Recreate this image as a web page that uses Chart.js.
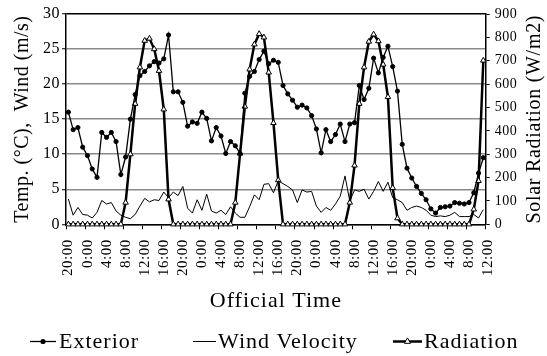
<!DOCTYPE html>
<html><head><meta charset="utf-8">
<script src="https://cdn.jsdelivr.net/npm/chart.js@4.4.1/dist/chart.umd.min.js"></script>
<style>html,body{margin:0;padding:0;background:#fff}canvas{display:block}</style>
</head><body>
<canvas id="c" width="547" height="356"></canvas>
<script>
// x tick labels (every 4 hours, at category boundaries)
const tickLabels = ['20:00','0:00','4:00','8:00','12:00','16:00','20:00','0:00','4:00','8:00','12:00','16:00',
  '20:00','0:00','4:00','8:00','12:00','16:00','20:00','0:00','4:00','8:00','12:00'];

// hourly series (88 readings)
const exterior = [16.0,13.5,13.8,11.0,9.8,7.9,6.7,13.1,12.4,13.1,11.8,7.1,9.6,15.0,18.5,21.2,21.8,22.6,23.2,23.0,
  23.6,27.0,18.9,18.9,17.4,14.0,14.6,14.4,16.0,15.1,11.9,13.8,12.6,10.1,11.8,11.2,10.1,18.7,21.1,21.8,
  23.5,24.7,22.9,23.4,23.1,19.8,18.6,17.7,16.7,17.0,16.6,15.5,13.6,10.2,13.5,11.8,12.8,14.3,11.8,14.3,
  14.5,19.8,17.8,19.4,23.7,21.6,23.8,25.4,22.5,19.0,11.4,8.0,6.6,5.4,4.4,3.5,2.2,1.6,2.4,2.5,
  2.6,3.1,3.0,2.9,3.1,4.5,7.3,9.5];

const wind = [3.6,1.3,2.4,1.4,1.3,0.9,1.7,3.4,2.9,3.1,1.9,1.3,1.0,0.8,1.4,2.6,3.7,3.2,3.5,3.4,
  4.6,3.8,4.6,4.1,5.4,2.3,1.6,3.5,2.0,4.3,1.9,1.6,2.0,1.4,2.5,1.6,1.0,1.0,2.5,4.2,
  3.5,5.7,5.8,4.5,6.2,5.8,5.4,4.9,3.1,4.9,4.6,4.7,2.6,1.7,2.4,2.0,2.9,4.0,6.9,3.3,
  4.9,4.7,5.0,3.6,4.7,6.1,4.7,6.0,3.8,3.5,3.1,2.0,2.4,2.6,2.4,2.0,1.3,1.1,1.2,1.1,
  1.3,1.7,1.1,1.1,1.1,1.4,0.9,2.1];

const radiation = [0,0,0,0,0,0,0,0,0,0,0,0,93,300,516,672,786,795,750,657,
  492,107,0,0,0,0,0,0,0,0,0,0,0,0,0,93,303,504,663,770,
  815,800,650,434,189,0,0,0,0,0,0,0,0,0,0,0,0,0,0,93,
  252,516,672,782,813,784,684,545,156,26,0,0,0,0,0,0,0,0,0,0,
  0,0,0,0,0,64,186,701];

const seriesNames = ['Exterior', 'Wind Velocity', 'Radiation'];

const FONT = "'Liberation Serif', 'Times New Roman', serif";
Chart.defaults.font.family = FONT;
Chart.defaults.color = '#000';

function withSpacing(proto, name, sp) {
  const f = proto[name];
  proto[name] = function (...a) {
    const c = this.ctx; const o = c.letterSpacing;
    c.letterSpacing = typeof sp === 'function' ? sp(this) : sp;
    try { return f.apply(this, a); } finally { c.letterSpacing = o; }
  };
}
withSpacing(Chart.Scale.prototype, 'drawTitle', s => s.axis === 'x' ? '1px' : '0.5px');
withSpacing(Chart.Scale.prototype, 'drawLabels', '0.5px');

const toXY = arr => arr.map((v, i) => ({ x: i, y: v }));

const customDecor = {
  id: 'customDecor',
  afterDraw(chart) {
    const ctx = chart.ctx;
    const ds = chart.data.datasets;
    ctx.save();
    // right axis title, rotated to read bottom-to-top
    const y1 = chart.scales.y1;
    ctx.save();
    ctx.translate(534.5, (chart.chartArea.top + chart.chartArea.bottom) / 2);
    ctx.rotate(-Math.PI / 2);
    ctx.font = '20px ' + FONT;
    ctx.letterSpacing = '0.7px';
    ctx.fillStyle = '#000';
    ctx.textAlign = 'center';
    ctx.textBaseline = 'middle';
    ctx.fillText(y1.options.title.text, 0, 0);
    ctx.restore();

    // legend
    const items = [
      { i: 0, x1: 30, x2: 56, tx: 59 },
      { i: 1, x1: 193, x2: 216, tx: 218 },
      { i: 2, x1: 393, x2: 422, tx: 424 }
    ];
    const ly = 341.5;
    ctx.font = '22px ' + FONT;
    ctx.letterSpacing = '1px';
    ctx.textBaseline = 'alphabetic';
    ctx.textAlign = 'left';
    items.forEach(it => {
      const d = ds[it.i];
      ctx.strokeStyle = '#000';
      ctx.lineWidth = d.borderWidth;
      ctx.beginPath(); ctx.moveTo(it.x1, ly); ctx.lineTo(it.x2, ly); ctx.stroke();
      const cx = (it.x1 + it.x2) / 2;
      if (d.pointStyle === 'circle' && d.pointRadius > 0) {
        ctx.fillStyle = '#000';
        ctx.beginPath(); ctx.arc(cx, ly, 2.6, 0, Math.PI * 2); ctx.fill();
      } else if (d.pointStyle === 'triangle') {
        const r = 3.6;
        ctx.fillStyle = '#fff'; ctx.lineWidth = 1;
        ctx.beginPath();
        for (let k = 0; k < 3; k++) {
          const a = k * 2 * Math.PI / 3;
          const px = cx + Math.sin(a) * r, py = ly - Math.cos(a) * r;
          k ? ctx.lineTo(px, py) : ctx.moveTo(px, py);
        }
        ctx.closePath(); ctx.fill(); ctx.stroke();
      }
      ctx.fillStyle = '#000';
      ctx.fillText(d.label, it.tx, 348);
    });
    ctx.restore();
  }
};

new Chart(document.getElementById('c'), {
  type: 'line',
  data: {
    datasets: [
      { label: seriesNames[0], data: toXY(exterior), yAxisID: 'y', borderColor: '#000', borderWidth: 1.3,
        pointStyle: 'circle', pointRadius: 2.1, pointBackgroundColor: '#000', pointBorderColor: '#000', pointBorderWidth: 1,
        tension: 0, clip: false },
      { label: seriesNames[1], data: toXY(wind), yAxisID: 'y', borderColor: '#000', borderWidth: 1,
        pointStyle: 'line', pointRadius: 0, tension: 0, clip: false },
      { label: seriesNames[2], data: toXY(radiation), yAxisID: 'y1', borderColor: '#000', borderWidth: 2.5,
        pointStyle: 'triangle', pointRadius: 3.2, pointBackgroundColor: '#fff', pointBorderColor: '#000', pointBorderWidth: 1,
        tension: 0, clip: false }
    ]
  },
  options: {
    responsive: false,
    animation: false,
    devicePixelRatio: 1,
    layout: { padding: { left: 0, right: 0, top: 14, bottom: 0 } },
    plugins: { legend: { display: false }, tooltip: { enabled: false } },
    scales: {
      x: {
        type: 'linear', min: -0.5, max: 87.5,
        afterBuildTicks: s => { s.ticks = tickLabels.map((_, k) => ({ value: -0.5 + 4 * k })); },
        afterFit: s => { s.height = 131.7; },
        grid: { drawOnChartArea: false, drawTicks: true, tickLength: 5, tickColor: '#000', tickWidth: 1 },
        border: { color: '#000', width: 1.5 },
        ticks: { autoSkip: false, maxRotation: 90, minRotation: 90, padding: 10, labelOffset: 2.5, color: '#000',
          font: { size: 15 }, callback: (v, i) => tickLabels[i] },
        title: { display: true, text: 'Official Time', color: '#000', font: { size: 22 }, padding: { top: 0, bottom: 41.8 } }
      },
      y: {
        position: 'left', min: 0, max: 30,
        afterFit: s => { s.width = 66; },
        ticks: { stepSize: 5, padding: 2, color: '#000', font: { size: 16 } },
        grid: { color: c => (c.tick && c.tick.value === 30) ? '#000' : '#8a8a8a', lineWidth: 1.5,
          tickLength: 4, tickColor: '#000', tickWidth: 1 },
        border: { color: '#000', width: 1.5 },
        title: { display: true, text: 'Temp. (°C),  Wind (m/s)', color: '#000', font: { size: 20 }, padding: { top: 11, bottom: 0 } }
      },
      y1: {
        position: 'right', min: 0, max: 900,
        afterFit: s => { s.width = 61.3; },
        ticks: { stepSize: 100, padding: 5, color: '#000', font: { size: 14 } },
        grid: { drawOnChartArea: false, tickLength: 4, tickColor: '#000', tickWidth: 1 },
        border: { color: '#000', width: 1.5 },
        title: { display: false, text: 'Solar Radiation (W/m2)' }
      }
    }
  },
  plugins: [customDecor]
});
</script>
</body></html>
